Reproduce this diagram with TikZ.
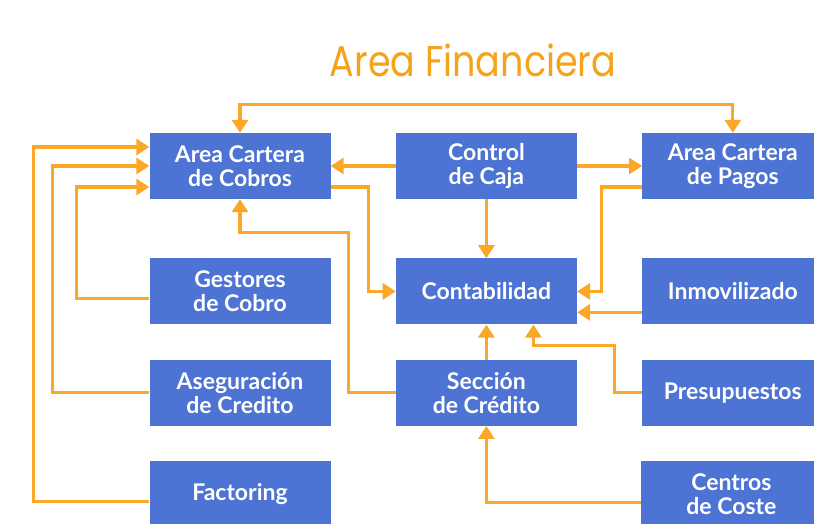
\documentclass[tikz,border=0pt]{standalone}
\usepackage{fontspec}
\setmainfont{Lato}
\newfontfamily\titlefont[FakeStretch=0.85]{Poppins}
\usetikzlibrary{
  positioning,
  arrows.meta
}
\definecolor{boxblue}{RGB}{77,116,212}
\definecolor{lineorange}{RGB}{251,168,40}
\definecolor{titleorange}{RGB}{245,163,26}

\begin{document}
\begin{tikzpicture}[x = 1pt, y = 1pt, node distance = 65pt,
    area/.style = {rectangle, fill = boxblue, text = white, align = center,
      minimum width = 181pt, minimum height = 66pt, inner sep = 0pt,
      font = \fontsize{23}{24}\selectfont\bfseries},
    flow/.style = {draw = lineorange, line width = 3.2pt},
    >={Triangle[width = 16pt, length = 13pt]}]
    \useasboundingbox[fill = white] (0,0) rectangle (814,524);

    \node[text = titleorange, font = \titlefont\fontsize{43}{48}\selectfont] (title) at (473,464) {Area Financiera};

    \node[area] (cobros) at (240,358) {Area Cartera\\de Cobros};
    \node[area, right = of cobros] (caja) {Control\\de Caja};
    \node[area, right = of caja] (pagos) {Area Cartera\\de Pagos};

    \node[area, below = 59pt of cobros] (gestores) {Gestores\\de Cobro};
    \node[area, right = of gestores] (conta) {Contabilidad};
    \node[area, right = of conta] (inmov) {Inmovilizado};

    \node[area, below = 35pt of gestores] (asegur) {Aseguración\\de Credito};
    \node[area, right = of asegur] (seccion) {Sección\\de Crédito};
    \node[area, right = of seccion] (presup) {Presupuestos};

    \node[area, below = 35pt of asegur] (factoring) {Factoring};
    \node[area, right = 310pt of factoring] (centros) {Centros\\de Coste};

    \draw[flow, <->] (cobros.north) -- ++(0,28) -| (pagos.north);
    \draw[flow, ->] (caja.west) -- (cobros.east);
    \draw[flow, ->] (caja.east) -- (pagos.west);
    \draw[flow, ->] (caja.south) -- (conta.north);
    \draw[flow, ->] ([yshift=-21pt]cobros.east) -- ++(38,0) |- (conta.west);
    \draw[flow, ->] ([yshift=-21pt]pagos.west) -- ++(-41,0) |- (conta.east);
    \draw[flow, ->] ([yshift=-21pt]inmov.west) -- ([yshift=-21pt]conta.east);
    \draw[flow, ->] (seccion.north) -- (conta.south);
    \draw[flow, ->] (presup.west) -- ++(-28,0) |- ([xshift=47pt,yshift=-21pt]conta.south) -- ([xshift=47pt]conta.south);
    \draw[flow, ->] ([yshift=-8pt]centros.west) -| (seccion.south);
    \draw[flow, ->] (seccion.west) -- ++(-47,0) |- ([yshift=-33pt]cobros.south) -- (cobros.south);
    \draw[flow, ->] ([yshift=-7pt]gestores.west) -- ++(-73,0) |- ([yshift=-21pt]cobros.west);
    \draw[flow, ->] (asegur.west) -- ++(-97,0) |- (cobros.west);
    \draw[flow, ->] ([yshift=-7pt]factoring.west) -- ++(-116,0) |- ([yshift=19pt]cobros.west);
\end{tikzpicture}
\end{document}
